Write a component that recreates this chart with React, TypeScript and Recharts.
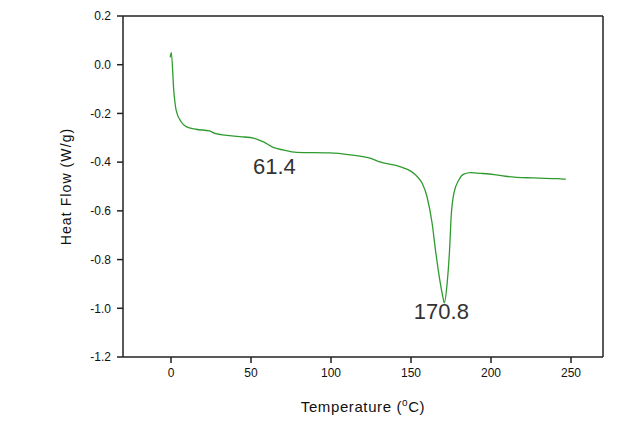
import React from 'react';
import { LineChart, Line, XAxis, YAxis, ReferenceLine, ReferenceDot, Label } from 'recharts';

// DSC trace
const temperature = [-0.5, 0.2, 1.7, 3.2, 6.3, 9.5, 15.7, 24, 28, 43, 52, 57.5, 63.8, 70, 78.5, 99, 112, 125, 130, 143.5, 149.8, 154, 157, 160, 163.2, 165.3, 168, 170.1, 170.8, 172.6, 174.1, 175.1, 176.8, 179.9, 183, 187.3, 193.5, 201.8, 209, 226.9, 241.6, 246.8];
const heatFlow = [0.03, 0.05, -0.104, -0.186, -0.234, -0.254, -0.265, -0.272, -0.283, -0.295, -0.302, -0.316, -0.339, -0.35, -0.36, -0.362, -0.37, -0.385, -0.398, -0.419, -0.437, -0.46, -0.487, -0.542, -0.651, -0.761, -0.884, -0.959, -0.978, -0.897, -0.761, -0.624, -0.528, -0.473, -0.449, -0.443, -0.446, -0.451, -0.458, -0.465, -0.468, -0.47];

const xTicks = [0, 50, 100, 150, 200, 250];
const yTicks = [-1.2, -1.0, -0.8, -0.6, -0.4, -0.2, 0.0, 0.2];

// peak annotations (text and where the text sits)
const peakLabels = ['61.4', '170.8'];
const peakLabelX = [64.6, 169];
const peakLabelY = [-0.416, -1.011];

const data = temperature.map((t, i) => ({ t, hf: heatFlow[i] }));

const FONT = '"Liberation Sans", Arial, sans-serif';
const AXIS = '#222';

const App: React.FC = () => {
  return (
    <div style={{ position: 'absolute', left: 0, top: 0, width: 638, height: 426, background: '#fff' }}>
      <LineChart width={638} height={426} data={data} margin={{ top: 16, right: 35, left: 0, bottom: 0 }}>
        <XAxis
          dataKey="t"
          type="number"
          domain={[-30, 270]}
          ticks={xTicks}
          allowDataOverflow
          height={69}
          stroke={AXIS}
          strokeWidth={1.5}
          tickSize={6}
          tickMargin={5}
          tick={{ fill: '#111', fontSize: 12, fontFamily: FONT }}
        >
          <Label
            content={({ viewBox }: any) => (
              <text
                x={viewBox.x + viewBox.width / 2}
                y={411.5}
                textAnchor="middle"
                fill="#111"
                fontSize={15}
                letterSpacing={0.6}
                fontFamily={FONT}
              >
                Temperature (
                <tspan fontSize={10} dy={-6}>o</tspan>
                <tspan dy={6}>C)</tspan>
              </text>
            )}
          />
        </XAxis>
        <YAxis
          type="number"
          domain={[-1.2, 0.2]}
          ticks={yTicks}
          allowDataOverflow
          width={123}
          stroke={AXIS}
          strokeWidth={1.5}
          tickSize={6}
          tickMargin={6}
          tickFormatter={(v: number) => v.toFixed(1)}
          tick={{ fill: '#111', fontSize: 12, fontFamily: FONT }}
        >
          <Label
            content={({ viewBox }: any) => {
              const cy = viewBox.y + viewBox.height / 2;
              return (
                <text
                  x={66}
                  y={cy}
                  transform={`rotate(-90 66 ${cy})`}
                  textAnchor="middle"
                  dominantBaseline="central"
                  fill="#111"
                  fontSize={14}
                  letterSpacing={1.1}
                  fontFamily={FONT}
                >
                  Heat Flow (W/g)
                </text>
              );
            }}
          />
        </YAxis>
        <ReferenceLine y={0.2} stroke={AXIS} strokeWidth={1.5} />
        <ReferenceLine x={270} stroke={AXIS} strokeWidth={1.5} />
        <Line
          type="monotone"
          dataKey="hf"
          stroke="#2f9b2f"
          strokeWidth={1.3}
          dot={false}
          isAnimationActive={false}
        />
        {peakLabels.map((txt, i) => (
          <ReferenceDot
            key={txt}
            x={peakLabelX[i]}
            y={peakLabelY[i]}
            r={0}
            stroke="none"
            fill="none"
            label={{ value: txt, position: 'center', fill: '#333', fontSize: 22, fontFamily: FONT }}
          />
        ))}
      </LineChart>
    </div>
  );
};

export default App;
